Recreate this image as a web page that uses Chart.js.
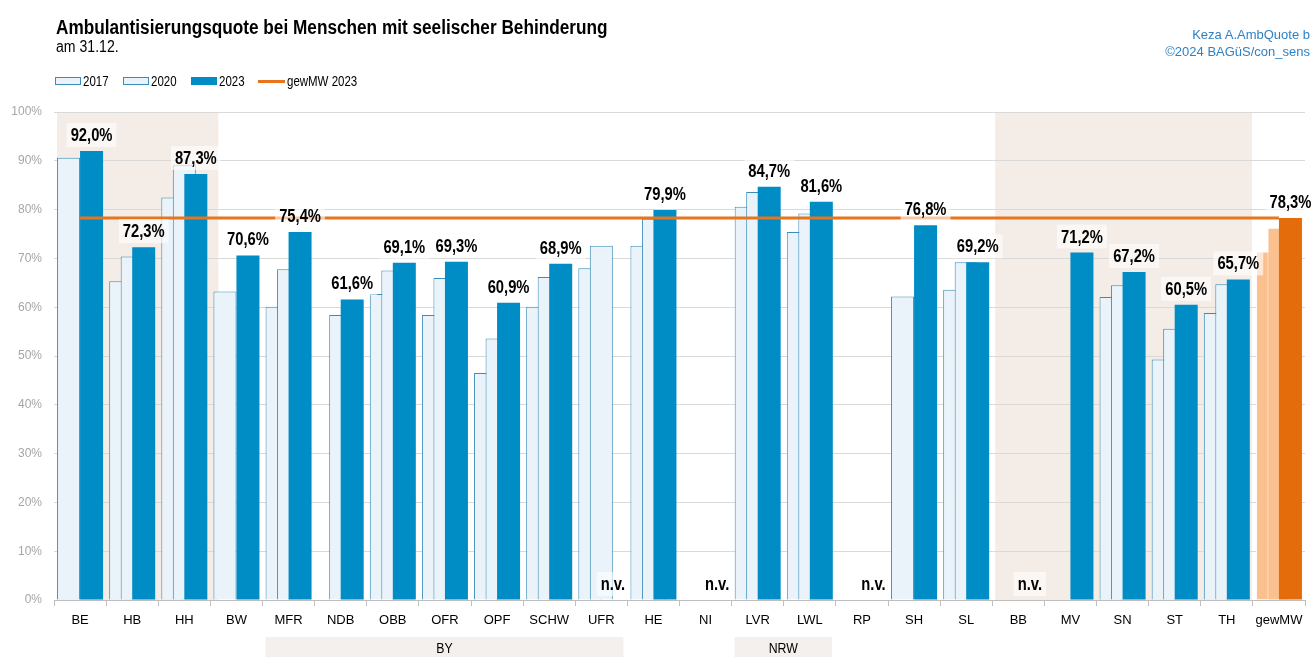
<!DOCTYPE html>
<html>
<head>
<meta charset="utf-8">
<script src="https://cdn.jsdelivr.net/npm/chart.js@4.4.1/dist/chart.umd.min.js"></script>
<style>
  html, body { margin: 0; padding: 0; background: #fff; }
  #wrap { position: relative; width: 1312px; height: 657px; overflow: hidden;
          font-family: 'Liberation Sans', Arial, sans-serif; }
  #chart { position: absolute; left: 0; top: 0; }
  .narrow { display: inline-block; transform-origin: 0 50%; white-space: nowrap; }
  .title { position: absolute; left: 56px; top: 16px; font-weight: bold; font-size: 20px; color: #000;
           transform: scaleX(0.86); transform-origin: 0 0; white-space: nowrap; }
  .subtitle { position: absolute; left: 56px; top: 38px; font-size: 16px; color: #000;
              transform: scaleX(0.88); transform-origin: 0 0; white-space: nowrap; }
  .credits { position: absolute; right: 2px; top: 26px; text-align: right;
             font-size: 13px; line-height: 17px; color: #2E82C4; }
  .legend { position: absolute; top: 73px; left: 0; height: 16px; font-size: 14px; }
  .legend .item { position: absolute; top: 0; display: flex; align-items: center; white-space: nowrap; }
  .legend .box { width: 24px; height: 6px; margin-right: 2px; }
  .legend .line { width: 27px; height: 3px; margin-right: 2px; }
  .legend .txt { transform: scaleX(0.82); }
</style>
</head>
<body>
<div id="wrap">
  <canvas id="chart" width="1312" height="657"></canvas>
  <div class="title">Ambulantisierungsquote bei Menschen mit seelischer Behinderung</div>
  <div class="subtitle">am 31.12.</div>
  <div class="credits">Keza A.AmbQuote b<br>©2024 BAGüS/con_sens</div>
  <div class="legend" id="legend"></div>
</div>
<script>
// Data
const categories = ['BE', 'HB', 'HH', 'BW', 'MFR', 'NDB', 'OBB', 'OFR', 'OPF', 'SCHW', 'UFR', 'HE',
                    'NI', 'LVR', 'LWL', 'RP', 'SH', 'SL', 'BB', 'MV', 'SN', 'ST', 'TH', 'gewMW'];
const q2017 = [90.6, 65.3, 82.5, 63.2, 60.1, null, 62.7, 58.4, 46.5, 60.1, 68.0, 72.6,
               null, 80.6, 75.4, null, 62.2, 63.6, null, null, 62.1, 49.3, 58.8, 71.4];
const q2020 = [null, 70.4, 89.1, null, 67.8, 58.4, 67.5, 66.0, 53.6, 66.2, 72.6, 78.1,
               null, 83.6, 79.2, null, null, 69.2, null, null, 64.5, 55.6, 64.7, 76.3];
const q2023 = [92.0, 72.3, 87.3, 70.6, 75.4, 61.6, 69.1, 69.3, 60.9, 68.9, null, 79.9,
               null, 84.7, 81.6, null, 76.8, 69.2, null, 71.2, 67.2, 60.5, 65.7, 78.3];
const gewMW2023 = 78.3;
const seriesNames = ['2017', '2020', '2023', 'gewMW 2023'];

// Regions
const groupNames = ['BY', 'NRW'];
const groupFrom = ['MFR', 'LVR'];
const groupTo = ['UFR', 'LWL'];
const shadeFrom = ['BE', 'BB'];
const shadeTo = ['HH', 'TH'];

const FONT = "'Liberation Sans', Arial, sans-serif";
const NARROW = 0.82;
Chart.defaults.font.family = FONT;

const isMean = categories.map(c => c === 'gewMW');
const lightFill = isMean.map(m => m ? '#FAC08E' : '#EAF3FA');
const lightBorder = isMean.map(m => m ? '#FFFFFF' : '#3A8CB9');
const darkFill = isMean.map(m => m ? '#E46C0A' : '#008CC5');
const lineColor = '#E8741C';

// Legend
const legendItems = [
  { text: seriesNames[0], left: 55, kind: 'box', fill: '#EAF3FA', border: '#3A8CB9' },
  { text: seriesNames[1], left: 123, kind: 'box', fill: '#EAF3FA', border: '#3A8CB9' },
  { text: seriesNames[2], left: 191, kind: 'box', fill: '#008CC5', border: '#008CC5' },
  { text: seriesNames[3], left: 258, kind: 'line', fill: lineColor }
];
const legendEl = document.getElementById('legend');
legendItems.forEach(it => {
  const d = document.createElement('div');
  d.className = 'item';
  d.style.left = it.left + 'px';
  const mark = document.createElement('span');
  if (it.kind === 'box') {
    mark.className = 'box';
    mark.style.background = it.fill;
    mark.style.border = '1px solid ' + it.border;
  } else {
    mark.className = 'line';
    mark.style.background = it.fill;
  }
  const t = document.createElement('span');
  t.className = 'narrow txt';
  t.textContent = it.text;
  d.appendChild(mark);
  d.appendChild(t);
  legendEl.appendChild(d);
});

function catEdges(chart, name) {
  const x = chart.scales.x;
  const i = categories.indexOf(name);
  const w = x.getPixelForValue(1) - x.getPixelForValue(0);
  const c = x.getPixelForValue(i);
  return [c - w / 2, c + w / 2];
}

function narrowText(ctx, txt, x, y) {
  ctx.save();
  ctx.translate(x, y);
  ctx.scale(NARROW, 1);
  ctx.fillText(txt, 0, 0);
  ctx.restore();
}

// background shading of city states / eastern states
const shading = {
  id: 'shading',
  beforeDraw(chart) {
    const { ctx, chartArea } = chart;
    ctx.save();
    ctx.fillStyle = '#F3ECE7';
    shadeFrom.forEach((from, i) => {
      const l = catEdges(chart, from)[0] + 3;
      const r = catEdges(chart, shadeTo[i])[1] + (i === 0 ? 8 : -1);
      ctx.fillRect(l, chartArea.top, r - l, chartArea.bottom - chartArea.top);
    });
    ctx.restore();
  }
};

// draw bars in dataset order so later years overlap earlier ones
const drawOrder = {
  id: 'drawOrder',
  beforeDatasetsDraw(chart) {
    chart.getSortedVisibleDatasetMetas().forEach(meta => meta.controller.draw());
    return false;
  }
};

// value labels and group boxes
const labels = {
  id: 'labels',
  afterDraw(chart) {
    const { ctx } = chart;
    const xs = chart.scales.x, ys = chart.scales.y;
    const meta = chart.getDatasetMeta(2);
    const dx = meta.data[0].x - xs.getPixelForValue(0);
    ctx.save();
    ctx.font = 'bold 18px ' + FONT;
    ctx.textAlign = 'center';
    ctx.textBaseline = 'middle';
    q2023.forEach((v, i) => {
      const txt = v == null ? 'n.v.' : v.toFixed(1).replace('.', ',') + '%';
      const x = xs.getPixelForValue(i) + dx;
      const y = ys.getPixelForValue(v == null ? 0 : v) - 16;
      const w = ctx.measureText(txt).width * NARROW + 8;
      ctx.fillStyle = 'rgba(255,255,255,0.6)';
      ctx.fillRect(x - w / 2, y - 12, w, 24);
      ctx.fillStyle = '#000';
      narrowText(ctx, txt, x, y + 1);
    });

    ctx.font = '15px ' + FONT;
    groupNames.forEach((g, i) => {
      const l = catEdges(chart, groupFrom[i])[0] + 3;
      const r = catEdges(chart, groupTo[i])[1] - 4;
      ctx.fillStyle = '#F4F0ED';
      ctx.fillRect(l, 637, r - l, 20);
      ctx.fillStyle = '#000';
      narrowText(ctx, g, (l + r) / 2, 649);
    });
    ctx.restore();
  }
};

new Chart(document.getElementById('chart'), {
  type: 'bar',
  data: {
    labels: categories,
    datasets: [
      { label: seriesNames[0], data: q2017, backgroundColor: lightFill, borderColor: lightBorder, borderWidth: 1 },
      { label: seriesNames[1], data: q2020, backgroundColor: lightFill, borderColor: lightBorder, borderWidth: 1 },
      { label: seriesNames[2], data: q2023, backgroundColor: darkFill, borderWidth: 0 },
      { type: 'line', label: seriesNames[3], data: categories.map(() => gewMW2023),
        borderColor: lineColor, borderWidth: 3, pointRadius: 0, fill: false }
    ]
  },
  options: {
    responsive: false,
    animation: false,
    layout: { padding: { top: 112, left: 9, right: 7, bottom: 0 } },
    datasets: { bar: { categoryPercentage: 0.662, barPercentage: 2 } },
    plugins: { legend: { display: false }, tooltip: { enabled: false } },
    scales: {
      x: {
        offset: true,
        grid: { offset: true, drawOnChartArea: false, tickLength: 6, color: '#BFBFBF' },
        border: { color: '#BFBFBF' },
        ticks: { color: '#000', font: { size: 13 }, padding: 7, maxRotation: 0, autoSkip: false },
        afterFit(s) { s.height = 57; }
      },
      y: {
        min: 0, max: 100,
        grid: { color: '#D9D9D9', drawTicks: false },
        border: { display: false },
        ticks: { stepSize: 10, color: '#A6A6A6', font: { size: 12 }, padding: 12, callback: v => v + '%' },
        afterFit(s) { s.width = 45; }
      }
    }
  },
  plugins: [shading, drawOrder, labels]
});
</script>
</body>
</html>
